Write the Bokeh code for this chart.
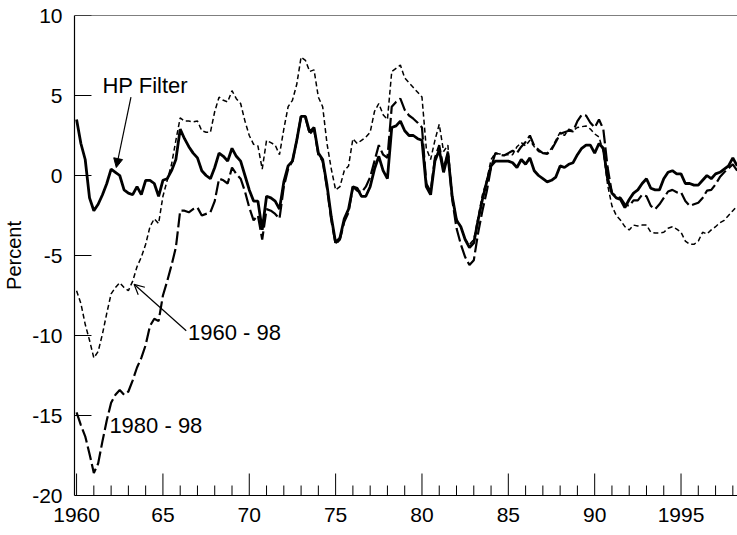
import numpy as np
from bokeh.plotting import figure
from bokeh.models import Range1d, FixedTicker, Span, Label, Arrow, NormalHead, OpenHead
from bokeh.embed import file_html
from bokeh.resources import INLINE

# ---------------- data (quarterly, starting 1960Q1), percent ----------------
start_year = 1960
step = 0.25

hp_filter = [
    3.5, 2.0, 1.0, -1.4, -2.2, -1.8, -1.2, -0.5, 0.4, 0.2,
    0.0, -0.9, -1.1, -1.2, -0.7, -1.2, -0.3, -0.3, -0.5, -1.3,
    -0.3, -0.2, 0.3, 1.0, 2.9, 2.3, 1.8, 1.4, 1.1, 0.3,
    0.0, -0.2, 0.5, 1.4, 1.2, 0.9, 1.7, 1.2, 0.9, 0.0,
    -0.9, -1.6, -1.6, -3.4, -1.3, -1.4, -1.6, -2.1, -0.4, 0.6,
    0.9, 2.2, 3.7, 3.7, 2.7, 3.0, 1.4, 1.0, -0.6, -2.6,
    -4.2, -3.9, -2.7, -2.1, -0.7, -0.8, -1.3, -1.3, -0.7, 0.4,
    1.2, 0.3, -0.2, 3.0, 3.1, 3.4, 2.8, 2.5, 2.5, 2.3,
    2.2, -0.7, -1.2, 0.9, 1.6, 0.2, 1.3, -1.3, -2.8, -3.2,
    -4.0, -4.5, -4.2, -2.8, -1.5, -0.4, 0.6, 0.9, 0.9, 0.9,
    0.9, 0.8, 0.5, 1.0, 0.7, 1.1, 0.3, 0.0, -0.2, -0.4,
    -0.3, -0.1, 0.6, 0.5, 0.7, 0.8, 1.3, 1.7, 1.9, 1.9,
    1.4, 2.0, 1.7, -0.2, -1.1, -1.4, -1.5, -2.0, -1.5, -1.1,
    -0.9, -0.5, -0.2, -0.8, -0.9, -0.9, -0.2, 0.2, 0.3, 0.1,
    0.1, -0.5, -0.5, -0.6, -0.6, -0.3, 0.0, -0.2, 0.1, 0.2,
    0.4, 0.6, 1.1, 0.6,
]

trend_1960_98 = [
    -7.2, -8.0, -9.3, -10.3, -11.4, -11.0, -9.9, -8.6, -7.4, -7.0,
    -6.7, -7.0, -7.2, -6.6, -5.7, -5.1, -4.3, -3.2, -2.7, -3.0,
    -1.3, -0.3, 0.7, 2.2, 3.6, 3.4, 3.4, 3.35, 3.4, 2.8,
    2.7, 2.7, 4.0, 4.9, 4.7, 4.6, 5.3, 4.8, 4.5, 3.4,
    2.5, 1.95, 1.85, 0.4, 2.2, 2.05, 1.9, 1.3, 2.9, 4.3,
    4.7, 5.7, 7.4, 7.2, 6.5, 6.6, 4.9, 4.3, 2.0, 0.4,
    -0.9, -0.7, 0.3, 0.6, 2.3, 2.0, 2.2, 2.4, 2.7, 4.0,
    4.5, 3.8, 3.5, 6.5, 6.7, 6.9, 6.1, 5.8, 5.5, 5.2,
    4.9, 1.7, 1.0, 2.2, 3.2, 1.5, 1.9, -1.3, -2.7, -3.2,
    -4.0, -4.3, -4.0, -2.6, -1.2, -0.3, 1.0, 1.4, 1.35, 1.3,
    1.3, 1.3, 1.8, 2.05, 1.85, 2.2, 1.8, 1.5, 1.4, 1.4,
    1.7, 2.2, 2.7, 2.5, 2.9, 2.8, 3.0, 3.05, 3.1, 2.9,
    2.6, 2.4, 1.5, -0.6, -1.9, -2.5, -2.8, -3.2, -3.4, -3.1,
    -3.15, -3.1, -3.1, -3.55, -3.6, -3.6, -3.55, -3.3, -3.2, -3.35,
    -3.55, -4.1, -4.3, -4.3, -4.1, -3.55, -3.65, -3.4, -3.2, -2.95,
    -2.8, -2.5, -2.2, -1.9,
]

trend_1980_98 = [
    -14.8, -15.6, -16.3, -17.4, -18.6, -18.0, -16.6, -15.3, -14.2, -13.7,
    -13.4, -13.7, -13.5, -12.8, -12.0, -11.4, -10.6, -9.4, -8.95, -9.1,
    -7.5, -6.6, -5.6, -4.5, -2.2, -2.2, -2.3, -2.1, -2.0, -2.5,
    -2.4, -2.3, -1.6, -0.2, -0.3, -0.5, 0.5, 0.1, -0.2, -1.0,
    -2.0, -2.8, -2.5, -4.0, -2.1, -2.2, -2.4, -2.7, -0.7, 0.4,
    0.9, 2.2, 3.7, 3.6, 2.6, 2.9, 1.3, 0.9, -0.8, -2.8,
    -4.3, -4.0, -2.9, -2.3, -0.7, -0.95, -1.05, -0.7, -0.1, 0.9,
    1.9, 1.3, 1.1, 4.3, 4.6, 4.8, 4.1, 3.75, 3.55, 3.3,
    3.0, -0.5, -1.0, 1.1, 1.9, 0.4, 1.5, -1.5, -3.3, -4.3,
    -5.1, -5.6, -5.3, -3.6, -2.2, -1.0, 0.5, 1.4, 1.3, 1.25,
    1.4, 1.55, 1.4, 1.8, 2.1, 2.5, 1.85, 1.6, 1.4, 1.35,
    1.6, 2.1, 2.6, 2.7, 2.8, 2.75, 3.4, 3.8, 3.75, 3.3,
    3.0, 3.5, 2.9, 0.5, -1.1, -1.3, -1.4, -1.8, -1.9, -1.55,
    -1.55, -1.2, -1.3, -1.9, -2.1, -1.8, -1.4, -1.0, -0.9, -1.05,
    -1.05, -1.6, -1.9, -1.8, -1.7, -1.4, -0.95, -0.9, -0.55, -0.1,
    0.2, 0.45, 0.7, 0.3,
]

x_major_ticks = [1960, 1965, 1970, 1975, 1980, 1985, 1990, 1995]
x_tick_labels = ["1960", "65", "70", "75", "80", "85", "90", "1995"]
x_minor_ticks = [yr for yr in range(1960, 1999) if yr not in x_major_ticks]
y_ticks = [-20, -15, -10, -5, 0, 5, 10]
y_tick_labels = ["-20", "-15", "-10", "-5", "0", "5", "10"]

x = start_year + step * np.arange(len(hp_filter))

FONT = "Liberation Sans"
X0, X1 = 1959.88, 1998.27
Y0, Y1 = -20, 10
FRAME_W, FRAME_H = 664, 480
px_x = (X1 - X0) / FRAME_W   # data units per pixel
px_y = (Y1 - Y0) / FRAME_H

p = figure(width=737, height=535, output_backend="svg", toolbar_location=None,
           x_range=Range1d(X0, X1), y_range=Range1d(Y0, Y1),
           min_border_left=73, min_border_right=0, min_border_top=15,
           min_border_bottom=40)
p.outline_line_color = None
p.grid.visible = False
p.background_fill_color = "white"
p.border_fill_color = "white"

p.line(x, trend_1960_98, line_color="black", line_width=1.5, line_dash="5 3")
p.line(x, trend_1980_98, line_color="black", line_width=2.2, line_dash="14 4")
p.line(x, hp_filter, line_color="black", line_width=2.8)

# inward tick marks (drawn as glyphs from the tick lists)
p.segment(x0=x_major_ticks, y0=[Y0] * len(x_major_ticks), x1=x_major_ticks,
          y1=[Y0 + 22 * px_y] * len(x_major_ticks), line_color="black", line_width=1)
p.segment(x0=x_minor_ticks, y0=[Y0] * len(x_minor_ticks), x1=x_minor_ticks,
          y1=[Y0 + 10 * px_y] * len(x_minor_ticks), line_color="black", line_width=1)
p.segment(x0=[X0] * len(y_ticks), y0=y_ticks, x1=[X0 + 17 * px_x] * len(y_ticks),
          y1=y_ticks, line_color="black", line_width=1)

# top border
p.add_layout(Span(location=Y1, dimension="width", line_color="black", line_width=1.2))

xa = p.xaxis[0]
xa.ticker = FixedTicker(ticks=x_major_ticks, minor_ticks=[])
xa.major_label_overrides = dict(zip(x_major_ticks, x_tick_labels))
xa.major_tick_in = 0
xa.major_tick_out = 0
xa.minor_tick_in = 0
xa.minor_tick_out = 0
xa.axis_line_width = 1.2
xa.major_label_text_font = FONT
xa.major_label_text_font_size = "21px"
xa.major_label_text_color = "black"
xa.major_label_standoff = 12

ya = p.yaxis[0]
ya.ticker = FixedTicker(ticks=y_ticks, minor_ticks=[])
ya.major_label_overrides = dict(zip(y_ticks, y_tick_labels))
ya.major_tick_in = 0
ya.major_tick_out = 0
ya.minor_tick_in = 0
ya.minor_tick_out = 0
ya.axis_line_width = 1.2
ya.major_label_text_font = FONT
ya.major_label_text_font_size = "21px"
ya.major_label_text_color = "black"
ya.major_label_standoff = 12
ya.axis_label = "Percent"
ya.axis_label_text_font = FONT
ya.axis_label_text_font_size = "20px"
ya.axis_label_text_font_style = "normal"
ya.axis_label_text_color = "black"
ya.axis_label_standoff = 4

# annotations
p.add_layout(Label(x=1961.5, y=5.6, text="HP Filter", text_font=FONT,
                   text_font_size="22px", text_baseline="alphabetic", text_color="black"))
p.add_layout(Label(x=1966.45, y=-9.8, text="1960 - 98", text_font=FONT,
                   text_font_size="22px", text_baseline="alphabetic", text_color="black"))
p.add_layout(Label(x=1961.9, y=-15.65, text="1980 - 98", text_font=FONT,
                   text_font_size="22px", text_baseline="alphabetic", text_color="black"))

p.add_layout(Arrow(end=NormalHead(size=9, fill_color="black", line_color="black"),
                   x_start=1963.15, y_start=4.9, x_end=1962.3, y_end=0.5,
                   line_color="black", line_width=1.2))
p.add_layout(Arrow(end=OpenHead(size=10, line_color="black", line_width=1.2),
                   x_start=1966.35, y_start=-9.7, x_end=1963.33, y_end=-6.8,
                   line_color="black", line_width=1.2))

open("out.html", "w").write(file_html(p, INLINE))
